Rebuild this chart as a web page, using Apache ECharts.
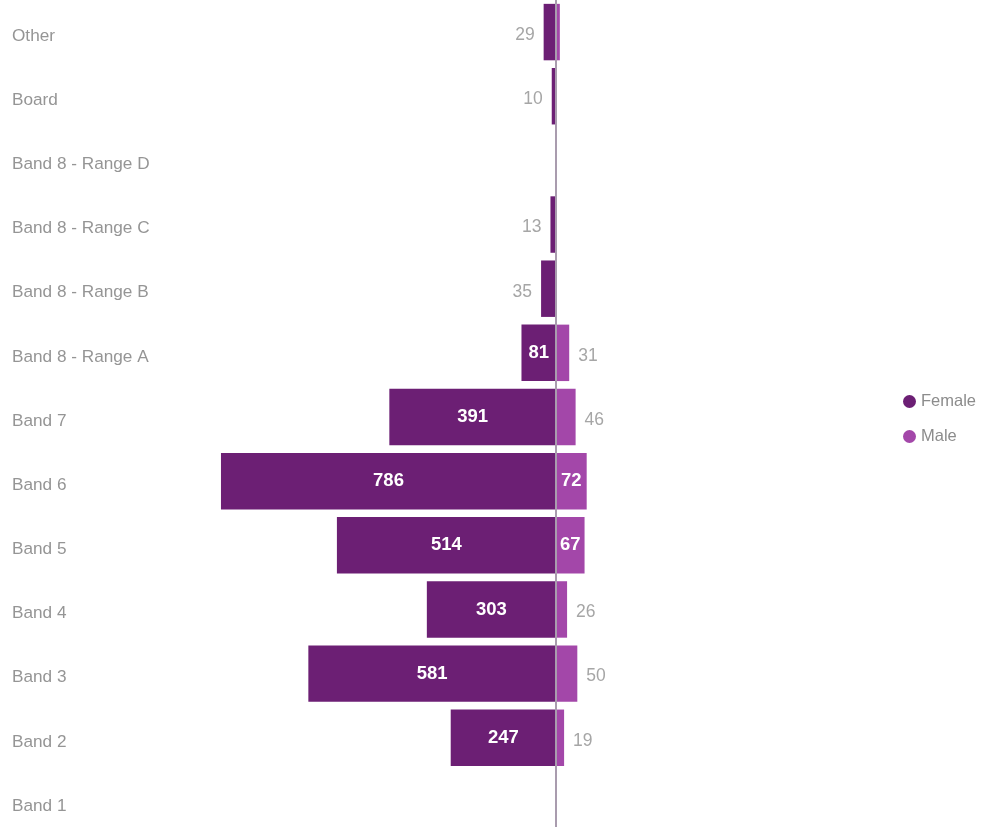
<!DOCTYPE html>
<html><head><meta charset="utf-8">
<script src="https://cdn.jsdelivr.net/npm/echarts@6/dist/echarts.min.js"></script>
<style>html,body{margin:0;padding:0;background:#fff;overflow:hidden}#c{width:983px;height:845px}</style>
</head><body><div id="c"></div>
<script>
const categories = ['Other','Board','Band 8 - Range D','Band 8 - Range C','Band 8 - Range B','Band 8 - Range A','Band 7','Band 6','Band 5','Band 4','Band 3','Band 2','Band 1'];
const female = [29, 10, 1, 13, 35, 81, 391, 786, 514, 303, 581, 247, 1];
const male = [9, 2, 0, 0, 1, 31, 46, 72, 67, 26, 50, 19, 1];

const FEMALE_COLOR = '#6c1f74';
const MALE_COLOR = '#a347a9';
const FONT = '"Liberation Sans", Arial, sans-serif';

function labelFor(v, side) {
  if (v < 10) return { show: false };
  const inside = v >= 60;
  return inside
    ? { show: true, position: 'inside', color: '#fff', fontWeight: 'bold', fontSize: 18.5, fontFamily: FONT }
    : { show: true, position: side, distance: 9, offset: [0, 3], color: '#a6a6a6', fontSize: 17.5, fontFamily: FONT };
}

const femaleData = female.map(v => ({ value: -v, label: labelFor(v, 'left') }));
const maleData = male.map(v => ({ value: v, label: labelFor(v, 'right') }));

const chart = echarts.init(document.getElementById('c'), null, { renderer: 'canvas' });
chart.setOption({
  animation: false,
  textStyle: { fontFamily: FONT },
  legend: {
    orient: 'vertical', left: 898, top: 388,
    icon: 'circle', itemWidth: 13, itemHeight: 13, itemGap: 18,
    textStyle: { color: '#8c8c8c', fontSize: 16.5, fontFamily: FONT },
    data: ['Female', 'Male']
  },
  grid: { left: 215, top: -1, width: 682, height: 835, containLabel: false },
  xAxis: {
    type: 'value', min: -800, max: 800,
    show: false
  },
  yAxis: {
    type: 'category', data: categories, inverse: true,
    axisLine: { show: false }, axisTick: { show: false }, splitLine: { show: false },
    axisLabel: { align: 'left', margin: 203, color: '#959595', fontSize: 17.2, fontFamily: FONT, verticalAlign: 'top', lineHeight: 8 }
  },
  series: [
    {
      name: 'Female', type: 'bar', stack: 'g', data: femaleData,
      barCategoryGap: '12%',
      itemStyle: { color: FEMALE_COLOR },
      label: { formatter: p => Math.abs(p.value) },
      markLine: {
        silent: true, symbol: 'none', z: 10,
        lineStyle: { color: '#a99cae', width: 2, type: 'solid' },
        label: { show: false },
        data: [{ xAxis: 0 }]
      }
    },
    {
      name: 'Male', type: 'bar', stack: 'g', data: maleData,
      barCategoryGap: '12%',
      itemStyle: { color: MALE_COLOR },
      label: { formatter: p => Math.abs(p.value) }
    }
  ]
});
</script></body></html>
